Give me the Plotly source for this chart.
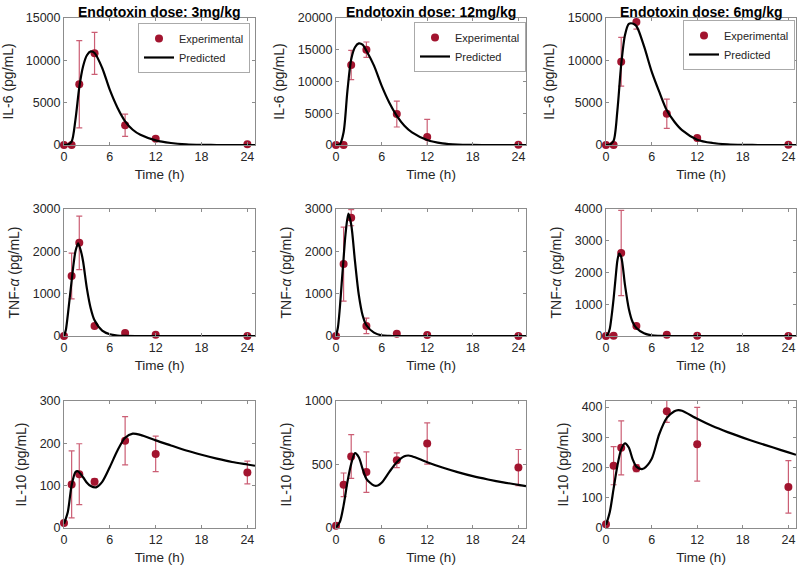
import plotly.graph_objects as go

# ---------------- data ----------------
t_obs = [0, 1, 2, 4, 8, 12, 24]
doses = ["3mg/kg", "12mg/kg", "6mg/kg"]

# IL-6 observations (pg/mL) and SD
il6_obs = [
    [0, 0, 7170, 10830, 2330, 740, 100],
    [0, 0, 12600, 15010, 4880, 1260, 50],
    [0, 0, 9840, 14520, 3690, 830, 40],
]
il6_err = [
    [0, 0, 5150, 2480, 1320, 150, 0],
    [0, 0, 2310, 1210, 2045, 2780, 0],
    [0, 0, 2880, 830, 1730, 200, 0],
]
# TNF-alpha observations
tnf_obs = [
    [0, 1417, 2200, 238, 71, 32, 0],
    [0, 1698, 2794, 238, 56, 24, 0],
    [0, 10, 2614, 315, 42, 10, 0],
]
tnf_err = [
    [0, 540, 633, 30, 20, 10, 0],
    [0, 873, 190, 183, 15, 10, 0],
    [0, 0, 1340, 40, 10, 0, 0],
]
# IL-10 observations
il10_obs = [
    [12, 103, 127, 109, 206, 175, 131],
    [18, 340, 563, 440, 534, 665, 476],
    [12, 206, 265, 198, 386, 277, 136],
]
il10_err = [
    [0, 79, 72, 7, 57, 42, 27],
    [0, 93, 173, 160, 58, 162, 142],
    [0, 63, 89, 12, 37, 122, 87],
]

# Predicted curves
il6_pred_t = [0, 0.5, 1, 1.5, 2, 2.5, 3, 3.5, 4, 5, 6, 7, 8, 9, 10, 12, 14, 16, 18, 20, 25]
il6_pred = [
    [0, 50, 400, 3000, 6800, 9300, 10600, 11050, 10870, 9100, 6500, 4400, 2800, 1800, 1200, 550, 240, 80, 20, 0, 0],
    [0, 100, 2000, 8500, 13500, 15400, 16000, 15800, 14850, 12500, 9350, 6700, 4600, 3050, 2000, 800, 260, 60, 10, 0, 0],
    [0, 50, 500, 4100, 9500, 13000, 14300, 14350, 14050, 11670, 8700, 6300, 4100, 2740, 1750, 630, 240, 80, 20, 0, 0],
]
tnf_pred_t = [
    [0, 0.25, 0.5, 0.75, 1, 1.25, 1.5, 1.85, 2.25, 2.5, 3, 3.5, 4, 5, 6, 7, 8, 10, 25],
    [0, 0.25, 0.5, 0.75, 1, 1.25, 1.63, 2, 2.5, 3, 3.5, 4, 5, 6, 7, 8, 10, 25],
    [0, 0.25, 0.5, 0.75, 1, 1.25, 1.5, 1.72, 2, 2.5, 3, 3.5, 4, 5, 6, 7, 8, 25],
]
tnf_pred = [
    [0, 150, 500, 900, 1300, 1700, 2000, 2190, 1980, 1760, 1120, 650, 370, 127, 40, 12, 4, 0, 0],
    [0, 200, 650, 1250, 1840, 2400, 2889, 2635, 1760, 970, 490, 254, 80, 16, 5, 0, 0, 0],
    [0, 60, 230, 650, 1175, 1800, 2380, 2593, 2490, 1600, 860, 440, 250, 84, 20, 5, 0, 0],
]
il10_pred_t = [
    [0, 0.5, 1, 1.5, 1.8, 2.5, 3, 3.5, 4.2, 5, 6, 7, 8, 9, 10, 12, 14, 16, 18, 20, 22, 24, 25],
    [0, 0.5, 1, 1.5, 2, 2.5, 3, 3.5, 4, 5, 5.5, 6, 7, 8, 9, 9.5, 10, 12, 14, 16, 18, 20, 22, 24, 25],
    [0, 0.5, 1, 1.5, 2, 2.5, 3, 3.5, 4, 4.7, 5, 6, 7, 8, 9, 9.5, 10, 12, 14, 16, 18, 20, 22, 24, 25],
]
il10_pred = [
    [10, 38, 101, 132, 134, 120, 107, 99, 96, 109, 144, 183, 213, 223, 220, 207, 195, 183, 173, 164, 156, 150, 147],
    [5, 47, 178, 361, 505, 589, 557, 466, 387, 335, 335, 356, 440, 518, 565, 571, 565, 518, 476, 440, 408, 382, 359, 340, 330],
    [10, 53, 130, 206, 260, 280, 266, 228, 203, 195, 197, 228, 310, 364, 386, 390, 388, 361, 337, 317, 299, 282, 266, 250, 242],
]

y_titles = ["IL-6 (pg/mL)", "TNF-<i>α</i> (pg/mL)", "IL-10 (pg/mL)"]
y_ranges = [
    [[0, 15000], [0, 20000], [0, 15000]],
    [[0, 3000], [0, 3000], [0, 4000]],
    [[0, 300], [0, 1000], [0, 420]],
]
y_dticks = [
    [5000, 5000, 5000],
    [1000, 1000, 1000],
    [100, 500, 100],
]
x_ticks = [0, 6, 12, 18, 24]

# ---------------- style ----------------
W, H = 800, 566
RED = "rgb(162,20,47)"
ERR = "rgba(185,40,70,0.75)"
AX = "#8c8c8c"
TXT = "#262626"
FONT = "Liberation Sans, Arial, Helvetica, sans-serif"

col_px = [(64, 255), (336, 526), (606, 796)]
row_px = [(18, 145), (209, 336), (401, 528)]

fig = go.Figure()

obs_all = [il6_obs, tnf_obs, il10_obs]
err_all = [il6_err, tnf_err, il10_err]
pred_all = [il6_pred, tnf_pred, il10_pred]
pred_t_all = [[il6_pred_t] * 3, tnf_pred_t, il10_pred_t]

legend_names = ["legend", "legend2", "legend3"]

for r in range(3):
    for c in range(3):
        k = r * 3 + c + 1
        xa = "x" if k == 1 else f"x{k}"
        ya = "y" if k == 1 else f"y{k}"
        show = r == 0
        fig.add_trace(go.Scatter(
            x=t_obs, y=obs_all[r][c], xaxis=xa, yaxis=ya,
            mode="markers", name="Experimental",
            marker=dict(color=RED, size=8),
            error_y=dict(type="data", array=err_all[r][c], visible=True,
                         color=ERR, thickness=1.2, width=3),
            showlegend=show, legend=legend_names[c],
            cliponaxis=False,
        ))
        fig.add_trace(go.Scatter(
            x=pred_t_all[r][c], y=pred_all[r][c], xaxis=xa, yaxis=ya,
            mode="lines", name="Predicted",
            line=dict(color="black", width=2.2, shape="spline", smoothing=0.8),
            showlegend=show, legend=legend_names[c],
        ))

layout = dict(
    template="none",
    width=W, height=H, autosize=False,
    margin=dict(l=0, r=0, t=0, b=0, pad=0),
    paper_bgcolor="white", plot_bgcolor="white",
    font=dict(family=FONT, color=TXT, size=12),
)

for r in range(3):
    for c in range(3):
        k = r * 3 + c + 1
        xk = "xaxis" if k == 1 else f"xaxis{k}"
        yk = "yaxis" if k == 1 else f"yaxis{k}"
        xa = "x" if k == 1 else f"x{k}"
        ya = "y" if k == 1 else f"y{k}"
        x0, x1 = col_px[c]
        y0, y1 = row_px[r]
        layout[xk] = dict(
            domain=[x0 / W, x1 / W], anchor=ya, range=[0, 25],
            automargin=False,
            tickvals=x_ticks, ticks="inside", ticklen=3, tickcolor=AX,
            showline=True, linecolor=AX, linewidth=1, mirror="ticks",
            showgrid=False, zeroline=False,
            tickfont=dict(size=12.5, color=TXT),
            title=dict(text="Time (h)", font=dict(size=13.5, color=TXT), standoff=6),
        )
        layout[yk] = dict(
            domain=[1 - y1 / H, 1 - y0 / H], anchor=xa, range=y_ranges[r][c],
            automargin=False,
            dtick=y_dticks[r][c], tick0=0, tickformat="d",
            ticks="inside", ticklen=3, tickcolor=AX,
            showline=True, linecolor=AX, linewidth=1, mirror="ticks",
            showgrid=False, zeroline=False,
            tickfont=dict(size=12.5, color=TXT),
            title=dict(text=y_titles[r], font=dict(size=14, color=TXT), standoff=9),
        )

legend_pos = [(250, 23), (526, 22), (795, 20)]
for c in range(3):
    lx, ly = legend_pos[c]
    layout[legend_names[c]] = dict(
        x=lx / W, y=1 - ly / H, xanchor="right", yanchor="top",
        bgcolor="white", bordercolor="#aaaaaa", borderwidth=1,
        font=dict(size=11, color=TXT), tracegroupgap=0,
        itemwidth=30,
    )

annotations = []
for c in range(3):
    x0, x1 = col_px[c]
    annotations.append(dict(
        text=f"<b>Endotoxin dose: {doses[c]}</b>",
        x=(x0 + x1) / 2 / W, y=1 - 12 / H, xref="paper", yref="paper",
        xanchor="center", yanchor="middle", showarrow=False,
        font=dict(size=14, color="black", family=FONT),
    ))
layout["annotations"] = annotations

fig.update_layout(**layout)
fig.write_html(
    "out.html",
    config={"displayModeBar": False},
    post_script="document.body.style.margin='0';document.body.style.padding='0';",
)
